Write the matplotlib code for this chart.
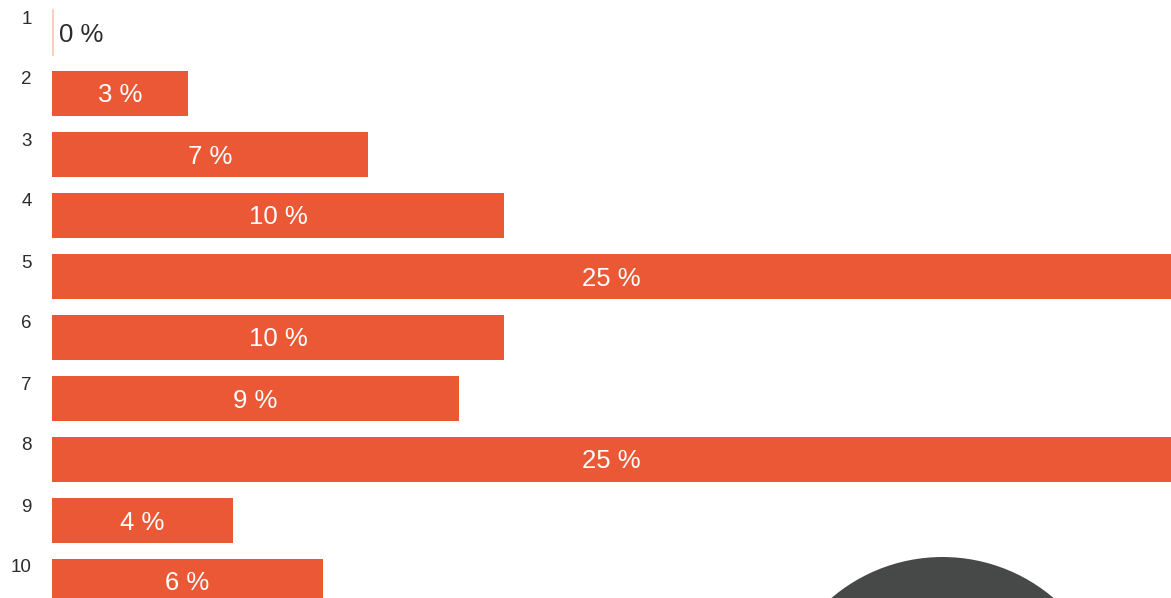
import matplotlib
matplotlib.use("Agg")
import matplotlib.pyplot as plt
from matplotlib.patches import Circle

categories = ["1", "2", "3", "4", "5", "6", "7", "8", "9", "10"]
values = [0, 3, 7, 10, 25, 10, 9, 25, 4, 6]

W, H, DPI = 1171, 598, 100
BAR = "#EA5835"
ZERO_LINE = "#F9C4B2"
TEXT_DARK = "#2B2B2B"
DISC = "#474948"
FONT = "Liberation Sans"

fig = plt.figure(figsize=(W / DPI, H / DPI), dpi=DPI)
fig.patch.set_facecolor("white")

# Bar area: starts 52 px from the left, 45.2 px per percent, 61 px per row
left_px = 52
px_per_pct = 45.2
pitch = 61.0
first_center = 32.5
xmax = (W - left_px) / px_per_pct
ax = fig.add_axes([left_px / W, 0, 1 - left_px / W, 1])
ax.set_xlim(0, xmax)
ax.set_ylim((H - first_center) / pitch, -first_center / pitch)
ax.axis("off")

ypos = list(range(len(categories)))
bar_h = 45 / pitch
text_dy = 2.0 / pitch
for y, v in zip(ypos, values):
    if v > 0:
        ax.barh(y, v, height=bar_h, color=BAR, linewidth=0)
        cx = min(v, xmax) / 2
        ax.text(cx, y + text_dy, f"{v} %", ha="center", va="center", color="white",
                fontsize=18.5, family=FONT)
    else:
        ax.plot([0.02, 0.02], [y - bar_h / 2, y + bar_h / 2], color=ZERO_LINE, lw=1.2)
        ax.text(7 / px_per_pct, y + text_dy, f"{v} %", ha="left", va="center",
                color=TEXT_DARK, fontsize=18.5, family=FONT)

# Row numbers, right-aligned in the left margin, above the bar centre
for y, c in zip(ypos, categories):
    fig.text(32 / W, 1 - (first_center + y * pitch - 13.5) / H, c,
             ha="right", va="center", color=TEXT_DARK, fontsize=13.5, family=FONT)

# Dark disc peeking in at the bottom right
over = fig.add_axes([0, 0, 1, 1], zorder=-1)
over.set_xlim(0, W)
over.set_ylim(H, 0)
over.axis("off")
over.add_patch(Circle((942.5, 728), 171, color=DISC, linewidth=0))

fig.savefig("out.png", dpi=DPI, facecolor="white")
